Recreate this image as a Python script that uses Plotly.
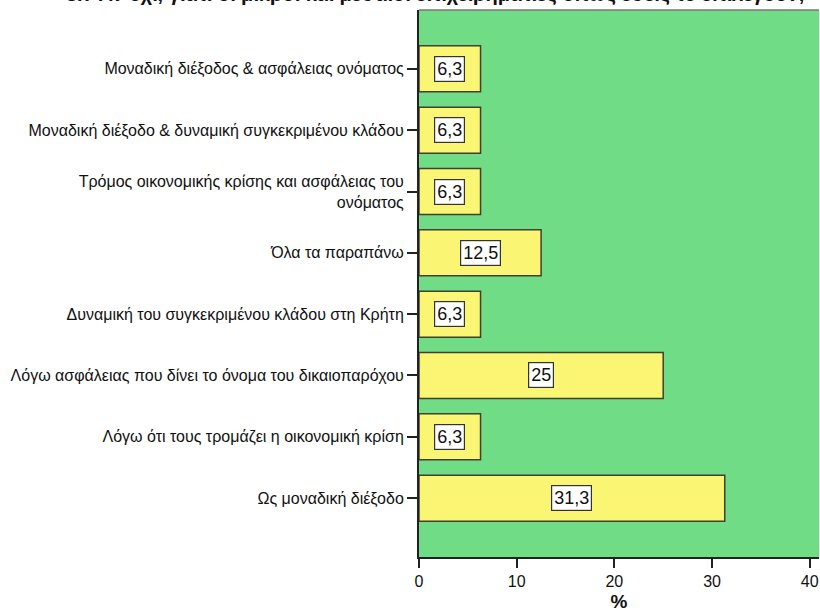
import plotly.graph_objects as go

# Reasons chosen, listed top to bottom, with the percentage of respondents
categories = [
    "Μοναδική διέξοδος & ασφάλειας ονόματος",
    "Μοναδική διέξοδο & δυναμική συγκεκριμένου κλάδου",
    "Τρόμος οικονομικής κρίσης και ασφάλειας του<br>ονόματος",
    "Όλα τα παραπάνω",
    "Δυναμική του συγκεκριμένου κλάδου στη Κρήτη",
    "Λόγω ασφάλειας που δίνει το όνομα του δικαιοπαρόχου",
    "Λόγω ότι τους τρομάζει η οικονομική κρίση",
    "Ως μοναδική διέξοδο",
]
percent = [6.3, 6.3, 6.3, 12.5, 6.3, 25, 6.3, 31.3]
value_labels = ["6,3", "6,3", "6,3", "12,5", "6,3", "25", "6,3", "31,3"]
x_ticks = [0, 10, 20, 30, 40]

title_text = "3.7 Αν όχι, γιατί οι μικροί και μεσαίοι επιχειρηματίες όπως εσείς το επιλέγουν;"

FONT = "Liberation Sans, Arial, sans-serif"
AXIS = "#222222"
TEXT = "#111111"

fig = go.Figure()
fig.add_trace(go.Bar(
    x=percent,
    y=categories,
    orientation="h",
    width=0.75,
    marker=dict(color="#FAF673", line=dict(color="#3f3f33", width=1.5)),
    hoverinfo="x+y",
))

# Value boxes centred inside each bar
for cat, val, lab in zip(categories, percent, value_labels):
    fig.add_annotation(
        x=val / 2, y=cat, xref="x", yref="y",
        text=lab, showarrow=False,
        font=dict(family=FONT, size=18, color=TEXT),
        bgcolor="white", bordercolor="#333333", borderwidth=1.2, borderpad=2,
    )

# Chart heading, sitting right at the top edge of the page
fig.add_annotation(
    x=0.04, xref="paper", xanchor="center",
    y=1.0295, yref="paper", yanchor="middle",
    text="<b>" + title_text + "</b>", showarrow=False,
    font=dict(family=FONT, size=20, color=TEXT),
)

fig.update_layout(
    width=820, height=614,
    margin=dict(l=419, r=1, t=10, b=57),
    paper_bgcolor="white",
    plot_bgcolor="#70DD86",
    font=dict(family=FONT, size=16, color=TEXT),
    showlegend=False,
)

fig.update_xaxes(
    range=[0, 40.95],
    tickmode="array", tickvals=x_ticks, ticktext=[str(t) for t in x_ticks],
    ticks="outside", ticklen=9, tickcolor=AXIS, tickwidth=1.5,
    showline=True, linecolor=AXIS, linewidth=2, mirror=False,
    showgrid=False, zeroline=False,
    tickfont=dict(family=FONT, size=16, color=TEXT),
    title=dict(text="<b>%</b>", font=dict(family=FONT, size=19, color=TEXT), standoff=5),
)
fig.update_yaxes(
    categoryorder="array", categoryarray=categories,
    autorange=False, range=[7.96, -0.96],
    ticks="outside", ticklen=10, tickcolor=AXIS, tickwidth=1.5,
    showline=True, linecolor=AXIS, linewidth=2,
    showgrid=False, zeroline=False,
    tickfont=dict(family=FONT, size=16, color=TEXT),
    ticklabelstandoff=0,
)

# Thin frame along the top edge of the plotting area
fig.add_shape(type="line", xref="paper", yref="paper", x0=0, x1=1, y0=1, y1=1,
              line=dict(color="#777777", width=1.5))

fig.write_html("out.html")
